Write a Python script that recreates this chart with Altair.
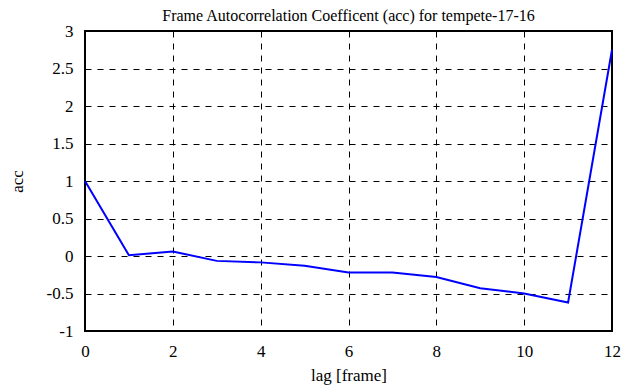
import altair as alt
import pandas as pd

lags = [0, 1, 2, 3, 4, 5, 6, 7, 8, 9, 10, 11, 12]
acc = [1.0, 0.01, 0.06, -0.065, -0.085, -0.13, -0.22, -0.22, -0.28, -0.43, -0.5, -0.62, 2.75]
x_ticks = [0, 2, 4, 6, 8, 10, 12]
y_ticks = [-1, -0.5, 0, 0.5, 1, 1.5, 2, 2.5, 3]

df = pd.DataFrame({"lag": lags, "acc": acc})

FONT = "Liberation Serif"
axis_style = dict(grid=True, gridDash=[6, 6], gridColor="black", gridOpacity=1, gridWidth=1,
                  ticks=False, domain=False, labelFlush=False, labelExpr="'' + datum.value",
                  labelFont=FONT, labelFontSize=17, labelColor="black",
                  titleFont=FONT, titleFontSize=17, titleColor="black", titleFontWeight="normal")

chart = alt.Chart(df).mark_line(color="#0000ff", strokeWidth=2).encode(
    x=alt.X("lag:Q", scale=alt.Scale(domain=[0, 12], nice=False),
            axis=alt.Axis(values=x_ticks, title="lag [frame]", labelPadding=12,
                          titlePadding=8, **axis_style)),
    y=alt.Y("acc:Q", scale=alt.Scale(domain=[-1, 3], nice=False),
            axis=alt.Axis(values=y_ticks, title="acc", labelPadding=12,
                          titlePadding=20, **axis_style)),
).properties(
    width=527, height=300,
    title=alt.TitleParams("Frame Autocorrelation Coefficent (acc) for tempete-17-16",
                          font=FONT, fontSize=16, fontWeight="normal", color="black",
                          offset=-2),
    autosize=alt.AutoSizeParams(type="none"),
    padding={"left": 77, "top": 23, "right": 20, "bottom": 56},
).configure_view(
    stroke="black", strokeWidth=2
)

chart.save("out.html", embed_options={"renderer": "svg", "actions": False})
